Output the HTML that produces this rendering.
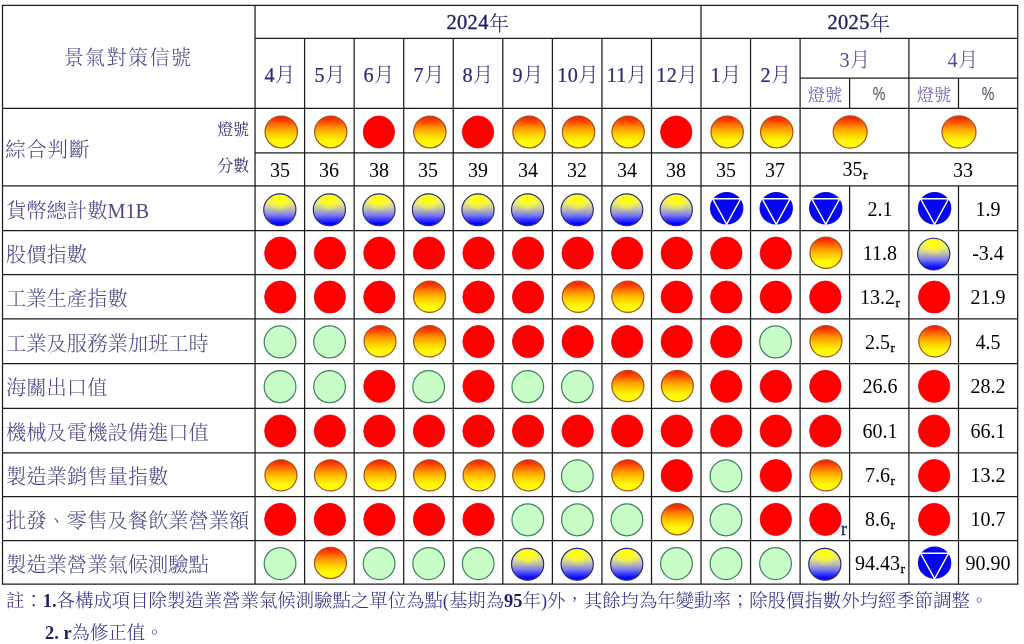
<!DOCTYPE html>
<html lang="zh-Hant">
<head>
<meta charset="utf-8">
<title>景氣對策信號</title>
<style>
html,body{margin:0;padding:0;background:#fff;}
body{width:1024px;height:644px;overflow:hidden;position:relative;font-family:"Liberation Serif","Noto Serif CJK TC","Noto Serif CJK SC",serif;}
#g{position:absolute;left:0;top:0;width:1024px;height:644px;}
.t{will-change:transform;position:absolute;white-space:nowrap;overflow:visible;margin:0;padding:0;}
.cj{font-family:"Liberation Serif","Noto Serif CJK TC","Noto Serif CJK SC",serif;font-weight:300;}
.n{font-family:"Liberation Serif",serif;font-weight:400;}
.sans{font-family:"Liberation Sans",sans-serif;}
.d{font-weight:400;-webkit-text-stroke:0.35px #1d1d66;}
.yr{position:relative;top:1.6px;}
.dm{-webkit-text-stroke:0.22px #2a2a78;}
.sub{font-size:13.5px;font-weight:400;-webkit-text-stroke:0.3px #000;position:relative;top:2.6px;margin-left:0.3px;}
.note{font-weight:300;}
.d2{font-weight:700;color:#1d1d66;font-family:"Liberation Serif",serif;}
</style>
</head>
<body>
<svg id="g" width="1024" height="644" viewBox="0 0 1024 644">
<defs>
<linearGradient id="gO" x1="0" y1="0" x2="0" y2="1">
<stop offset="0" stop-color="#ff1408"/>
<stop offset="0.10" stop-color="#ff3005"/>
<stop offset="0.38" stop-color="#ff9800"/>
<stop offset="0.58" stop-color="#ffcf00"/>
<stop offset="0.78" stop-color="#fff608"/>
<stop offset="1" stop-color="#ffff10"/>
</linearGradient>
<linearGradient id="gY" x1="0" y1="0" x2="0" y2="1">
<stop offset="0" stop-color="#f4f458"/>
<stop offset="0.18" stop-color="#f2f25c"/>
<stop offset="0.3" stop-color="#e8e870"/>
<stop offset="0.42" stop-color="#cecea0"/>
<stop offset="0.53" stop-color="#adadbe"/>
<stop offset="0.66" stop-color="#8080e8"/>
<stop offset="0.8" stop-color="#3c3cff"/>
<stop offset="0.93" stop-color="#0606ff"/>
<stop offset="1" stop-color="#0000f2"/>
</linearGradient>
<radialGradient id="gYr" cx="0.5" cy="0.16" r="0.4" fx="0.5" fy="0.12">
<stop offset="0" stop-color="#ffff0c" stop-opacity="1"/>
<stop offset="0.3" stop-color="#ffff10" stop-opacity="0.95"/>
<stop offset="0.65" stop-color="#ffff20" stop-opacity="0.5"/>
<stop offset="1" stop-color="#ffff30" stop-opacity="0"/>
</radialGradient>
</defs>
<g stroke="#1c1c1c" stroke-width="1.25" fill="none">
<line x1="1.9" y1="5.35" x2="1018.3000000000001" y2="5.35"/>
<line x1="255.05" y1="38.4" x2="1017.7" y2="38.4"/>
<line x1="800.1" y1="78.05" x2="1017.7" y2="78.05"/>
<line x1="2.5" y1="108.3" x2="1017.7" y2="108.3"/>
<line x1="255.05" y1="152.8" x2="1017.7" y2="152.8"/>
<line x1="2.5" y1="185.9" x2="1017.7" y2="185.9"/>
<line x1="2.5" y1="230.5" x2="1017.7" y2="230.5"/>
<line x1="2.5" y1="274.5" x2="1017.7" y2="274.5"/>
<line x1="2.5" y1="318.9" x2="1017.7" y2="318.9"/>
<line x1="2.5" y1="363.5" x2="1017.7" y2="363.5"/>
<line x1="2.5" y1="408.4" x2="1017.7" y2="408.4"/>
<line x1="2.5" y1="452.9" x2="1017.7" y2="452.9"/>
<line x1="2.5" y1="496.6" x2="1017.7" y2="496.6"/>
<line x1="2.5" y1="540.5" x2="1017.7" y2="540.5"/>
<line x1="1.9" y1="584.2" x2="1018.3000000000001" y2="584.2"/>
<line x1="2.5" y1="5.35" x2="2.5" y2="584.2"/>
<line x1="255.05" y1="5.35" x2="255.05" y2="584.2"/>
<line x1="304.6" y1="38.4" x2="304.6" y2="584.2"/>
<line x1="354.15" y1="38.4" x2="354.15" y2="584.2"/>
<line x1="403.7" y1="38.4" x2="403.7" y2="584.2"/>
<line x1="453.25" y1="38.4" x2="453.25" y2="584.2"/>
<line x1="502.8" y1="38.4" x2="502.8" y2="584.2"/>
<line x1="552.4" y1="38.4" x2="552.4" y2="584.2"/>
<line x1="601.95" y1="38.4" x2="601.95" y2="584.2"/>
<line x1="651.5" y1="38.4" x2="651.5" y2="584.2"/>
<line x1="701.0" y1="5.35" x2="701.0" y2="584.2"/>
<line x1="750.55" y1="38.4" x2="750.55" y2="584.2"/>
<line x1="800.1" y1="38.4" x2="800.1" y2="584.2"/>
<line x1="849.6" y1="78.05" x2="849.6" y2="108.3"/>
<line x1="849.6" y1="185.9" x2="849.6" y2="584.2"/>
<line x1="908.9" y1="38.4" x2="908.9" y2="584.2"/>
<line x1="958.5" y1="78.05" x2="958.5" y2="108.3"/>
<line x1="958.5" y1="185.9" x2="958.5" y2="584.2"/>
<line x1="1017.7" y1="5.35" x2="1017.7" y2="584.2"/>
</g>
<g>
<ellipse cx="281.23" cy="132.0" rx="16.15" ry="15.9" fill="url(#gO)" stroke="#a9561c" stroke-width="1.25"/>
<ellipse cx="330.77" cy="132.0" rx="16.15" ry="15.9" fill="url(#gO)" stroke="#a9561c" stroke-width="1.25"/>
<ellipse cx="378.92" cy="132.0" rx="15.7" ry="16.05" fill="#ff0000" stroke="#ea0410" stroke-width="0.8"/>
<ellipse cx="429.88" cy="132.0" rx="16.15" ry="15.9" fill="url(#gO)" stroke="#a9561c" stroke-width="1.25"/>
<ellipse cx="478.02" cy="132.0" rx="15.7" ry="16.05" fill="#ff0000" stroke="#ea0410" stroke-width="0.8"/>
<ellipse cx="529.0" cy="132.0" rx="16.15" ry="15.9" fill="url(#gO)" stroke="#a9561c" stroke-width="1.25"/>
<ellipse cx="578.57" cy="132.0" rx="16.15" ry="15.9" fill="url(#gO)" stroke="#a9561c" stroke-width="1.25"/>
<ellipse cx="628.12" cy="132.0" rx="16.15" ry="15.9" fill="url(#gO)" stroke="#a9561c" stroke-width="1.25"/>
<ellipse cx="676.25" cy="132.0" rx="15.7" ry="16.05" fill="#ff0000" stroke="#ea0410" stroke-width="0.8"/>
<ellipse cx="727.17" cy="132.0" rx="16.15" ry="15.9" fill="url(#gO)" stroke="#a9561c" stroke-width="1.25"/>
<ellipse cx="776.73" cy="132.0" rx="16.15" ry="15.9" fill="url(#gO)" stroke="#a9561c" stroke-width="1.25"/>
<ellipse cx="850.2" cy="132.0" rx="17.0" ry="16.1" fill="url(#gO)" stroke="#a9561c" stroke-width="1.25"/>
<ellipse cx="959.0" cy="132.0" rx="17.0" ry="16.1" fill="url(#gO)" stroke="#a9561c" stroke-width="1.25"/>
<ellipse cx="279.83" cy="209.8" rx="16.1" ry="15.9" fill="url(#gY)"/><ellipse cx="279.83" cy="209.8" rx="16.1" ry="15.9" fill="url(#gYr)" stroke="#26267e" stroke-width="1.15"/>
<ellipse cx="329.38" cy="209.8" rx="16.1" ry="15.9" fill="url(#gY)"/><ellipse cx="329.38" cy="209.8" rx="16.1" ry="15.9" fill="url(#gYr)" stroke="#26267e" stroke-width="1.15"/>
<ellipse cx="378.92" cy="209.8" rx="16.1" ry="15.9" fill="url(#gY)"/><ellipse cx="378.92" cy="209.8" rx="16.1" ry="15.9" fill="url(#gYr)" stroke="#26267e" stroke-width="1.15"/>
<ellipse cx="428.48" cy="209.8" rx="16.1" ry="15.9" fill="url(#gY)"/><ellipse cx="428.48" cy="209.8" rx="16.1" ry="15.9" fill="url(#gYr)" stroke="#26267e" stroke-width="1.15"/>
<ellipse cx="478.02" cy="209.8" rx="16.1" ry="15.9" fill="url(#gY)"/><ellipse cx="478.02" cy="209.8" rx="16.1" ry="15.9" fill="url(#gYr)" stroke="#26267e" stroke-width="1.15"/>
<ellipse cx="527.6" cy="209.8" rx="16.1" ry="15.9" fill="url(#gY)"/><ellipse cx="527.6" cy="209.8" rx="16.1" ry="15.9" fill="url(#gYr)" stroke="#26267e" stroke-width="1.15"/>
<ellipse cx="577.17" cy="209.8" rx="16.1" ry="15.9" fill="url(#gY)"/><ellipse cx="577.17" cy="209.8" rx="16.1" ry="15.9" fill="url(#gYr)" stroke="#26267e" stroke-width="1.15"/>
<ellipse cx="626.73" cy="209.8" rx="16.1" ry="15.9" fill="url(#gY)"/><ellipse cx="626.73" cy="209.8" rx="16.1" ry="15.9" fill="url(#gYr)" stroke="#26267e" stroke-width="1.15"/>
<ellipse cx="676.25" cy="209.8" rx="16.1" ry="15.9" fill="url(#gY)"/><ellipse cx="676.25" cy="209.8" rx="16.1" ry="15.9" fill="url(#gYr)" stroke="#26267e" stroke-width="1.15"/>
<g><ellipse cx="726.67" cy="208.2" rx="16.7" ry="16.2" fill="#0505ee"/><path d="M712.67 198.80 L740.67 198.80 L726.67 224.30 Z" fill="none" stroke="#fff" stroke-width="1.45" stroke-linejoin="miter"/></g>
<g><ellipse cx="776.23" cy="208.2" rx="16.7" ry="16.2" fill="#0505ee"/><path d="M762.23 198.80 L790.23 198.80 L776.23 224.30 Z" fill="none" stroke="#fff" stroke-width="1.45" stroke-linejoin="miter"/></g>
<g><ellipse cx="825.75" cy="208.2" rx="16.7" ry="16.2" fill="#0505ee"/><path d="M811.75 198.80 L839.75 198.80 L825.75 224.30 Z" fill="none" stroke="#fff" stroke-width="1.45" stroke-linejoin="miter"/></g>
<g><ellipse cx="934.6" cy="208.2" rx="16.7" ry="16.2" fill="#0505ee"/><path d="M920.60 198.80 L948.60 198.80 L934.60 224.30 Z" fill="none" stroke="#fff" stroke-width="1.45" stroke-linejoin="miter"/></g>
<ellipse cx="280.33" cy="253.05" rx="15.7" ry="16.05" fill="#ff0000" stroke="#ea0410" stroke-width="0.8"/>
<ellipse cx="329.88" cy="253.05" rx="15.7" ry="16.05" fill="#ff0000" stroke="#ea0410" stroke-width="0.8"/>
<ellipse cx="379.42" cy="253.05" rx="15.7" ry="16.05" fill="#ff0000" stroke="#ea0410" stroke-width="0.8"/>
<ellipse cx="428.98" cy="253.05" rx="15.7" ry="16.05" fill="#ff0000" stroke="#ea0410" stroke-width="0.8"/>
<ellipse cx="478.52" cy="253.05" rx="15.7" ry="16.05" fill="#ff0000" stroke="#ea0410" stroke-width="0.8"/>
<ellipse cx="528.1" cy="253.05" rx="15.7" ry="16.05" fill="#ff0000" stroke="#ea0410" stroke-width="0.8"/>
<ellipse cx="577.67" cy="253.05" rx="15.7" ry="16.05" fill="#ff0000" stroke="#ea0410" stroke-width="0.8"/>
<ellipse cx="627.23" cy="253.05" rx="15.7" ry="16.05" fill="#ff0000" stroke="#ea0410" stroke-width="0.8"/>
<ellipse cx="676.75" cy="253.05" rx="15.7" ry="16.05" fill="#ff0000" stroke="#ea0410" stroke-width="0.8"/>
<ellipse cx="726.27" cy="253.05" rx="15.7" ry="16.05" fill="#ff0000" stroke="#ea0410" stroke-width="0.8"/>
<ellipse cx="775.83" cy="253.05" rx="15.7" ry="16.05" fill="#ff0000" stroke="#ea0410" stroke-width="0.8"/>
<ellipse cx="825.95" cy="252.8" rx="16.0" ry="15.6" fill="url(#gO)" stroke="#a9561c" stroke-width="1.25"/>
<ellipse cx="933.7" cy="254.1" rx="16.1" ry="15.9" fill="url(#gY)"/><ellipse cx="933.7" cy="254.1" rx="16.1" ry="15.9" fill="url(#gYr)" stroke="#26267e" stroke-width="1.15"/>
<ellipse cx="280.33" cy="297.05" rx="15.7" ry="16.05" fill="#ff0000" stroke="#ea0410" stroke-width="0.8"/>
<ellipse cx="329.88" cy="297.05" rx="15.7" ry="16.05" fill="#ff0000" stroke="#ea0410" stroke-width="0.8"/>
<ellipse cx="379.42" cy="297.05" rx="15.7" ry="16.05" fill="#ff0000" stroke="#ea0410" stroke-width="0.8"/>
<ellipse cx="429.58" cy="296.8" rx="16.0" ry="15.6" fill="url(#gO)" stroke="#a9561c" stroke-width="1.25"/>
<ellipse cx="478.52" cy="297.05" rx="15.7" ry="16.05" fill="#ff0000" stroke="#ea0410" stroke-width="0.8"/>
<ellipse cx="528.1" cy="297.05" rx="15.7" ry="16.05" fill="#ff0000" stroke="#ea0410" stroke-width="0.8"/>
<ellipse cx="578.27" cy="296.8" rx="16.0" ry="15.6" fill="url(#gO)" stroke="#a9561c" stroke-width="1.25"/>
<ellipse cx="627.83" cy="296.8" rx="16.0" ry="15.6" fill="url(#gO)" stroke="#a9561c" stroke-width="1.25"/>
<ellipse cx="676.75" cy="297.05" rx="15.7" ry="16.05" fill="#ff0000" stroke="#ea0410" stroke-width="0.8"/>
<ellipse cx="726.27" cy="297.05" rx="15.7" ry="16.05" fill="#ff0000" stroke="#ea0410" stroke-width="0.8"/>
<ellipse cx="775.83" cy="297.05" rx="15.7" ry="16.05" fill="#ff0000" stroke="#ea0410" stroke-width="0.8"/>
<ellipse cx="825.35" cy="297.05" rx="15.7" ry="16.05" fill="#ff0000" stroke="#ea0410" stroke-width="0.8"/>
<ellipse cx="934.2" cy="297.05" rx="15.7" ry="16.05" fill="#ff0000" stroke="#ea0410" stroke-width="0.8"/>
<ellipse cx="280.03" cy="341.9" rx="15.85" ry="16.0" fill="#c8fdc8" stroke="#3f855a" stroke-width="1.25"/>
<ellipse cx="329.57" cy="341.9" rx="15.85" ry="16.0" fill="#c8fdc8" stroke="#3f855a" stroke-width="1.25"/>
<ellipse cx="380.02" cy="341.3" rx="16.0" ry="15.6" fill="url(#gO)" stroke="#a9561c" stroke-width="1.25"/>
<ellipse cx="429.58" cy="341.3" rx="16.0" ry="15.6" fill="url(#gO)" stroke="#a9561c" stroke-width="1.25"/>
<ellipse cx="478.52" cy="341.55" rx="15.7" ry="16.05" fill="#ff0000" stroke="#ea0410" stroke-width="0.8"/>
<ellipse cx="528.1" cy="341.55" rx="15.7" ry="16.05" fill="#ff0000" stroke="#ea0410" stroke-width="0.8"/>
<ellipse cx="577.67" cy="341.55" rx="15.7" ry="16.05" fill="#ff0000" stroke="#ea0410" stroke-width="0.8"/>
<ellipse cx="627.23" cy="341.55" rx="15.7" ry="16.05" fill="#ff0000" stroke="#ea0410" stroke-width="0.8"/>
<ellipse cx="676.75" cy="341.55" rx="15.7" ry="16.05" fill="#ff0000" stroke="#ea0410" stroke-width="0.8"/>
<ellipse cx="726.27" cy="341.55" rx="15.7" ry="16.05" fill="#ff0000" stroke="#ea0410" stroke-width="0.8"/>
<ellipse cx="775.53" cy="341.9" rx="15.85" ry="16.0" fill="#c8fdc8" stroke="#3f855a" stroke-width="1.25"/>
<ellipse cx="825.95" cy="341.3" rx="16.0" ry="15.6" fill="url(#gO)" stroke="#a9561c" stroke-width="1.25"/>
<ellipse cx="934.8" cy="341.3" rx="16.0" ry="15.6" fill="url(#gO)" stroke="#a9561c" stroke-width="1.25"/>
<ellipse cx="280.03" cy="386.65" rx="15.85" ry="16.0" fill="#c8fdc8" stroke="#3f855a" stroke-width="1.25"/>
<ellipse cx="329.57" cy="386.65" rx="15.85" ry="16.0" fill="#c8fdc8" stroke="#3f855a" stroke-width="1.25"/>
<ellipse cx="379.42" cy="386.3" rx="15.7" ry="16.05" fill="#ff0000" stroke="#ea0410" stroke-width="0.8"/>
<ellipse cx="428.68" cy="386.65" rx="15.85" ry="16.0" fill="#c8fdc8" stroke="#3f855a" stroke-width="1.25"/>
<ellipse cx="478.52" cy="386.3" rx="15.7" ry="16.05" fill="#ff0000" stroke="#ea0410" stroke-width="0.8"/>
<ellipse cx="527.8" cy="386.65" rx="15.85" ry="16.0" fill="#c8fdc8" stroke="#3f855a" stroke-width="1.25"/>
<ellipse cx="577.38" cy="386.65" rx="15.85" ry="16.0" fill="#c8fdc8" stroke="#3f855a" stroke-width="1.25"/>
<ellipse cx="627.83" cy="386.05" rx="16.0" ry="15.6" fill="url(#gO)" stroke="#a9561c" stroke-width="1.25"/>
<ellipse cx="677.35" cy="386.05" rx="16.0" ry="15.6" fill="url(#gO)" stroke="#a9561c" stroke-width="1.25"/>
<ellipse cx="726.27" cy="386.3" rx="15.7" ry="16.05" fill="#ff0000" stroke="#ea0410" stroke-width="0.8"/>
<ellipse cx="775.83" cy="386.3" rx="15.7" ry="16.05" fill="#ff0000" stroke="#ea0410" stroke-width="0.8"/>
<ellipse cx="825.35" cy="386.3" rx="15.7" ry="16.05" fill="#ff0000" stroke="#ea0410" stroke-width="0.8"/>
<ellipse cx="934.2" cy="386.3" rx="15.7" ry="16.05" fill="#ff0000" stroke="#ea0410" stroke-width="0.8"/>
<ellipse cx="280.33" cy="431.0" rx="15.7" ry="16.05" fill="#ff0000" stroke="#ea0410" stroke-width="0.8"/>
<ellipse cx="329.88" cy="431.0" rx="15.7" ry="16.05" fill="#ff0000" stroke="#ea0410" stroke-width="0.8"/>
<ellipse cx="379.42" cy="431.0" rx="15.7" ry="16.05" fill="#ff0000" stroke="#ea0410" stroke-width="0.8"/>
<ellipse cx="428.98" cy="431.0" rx="15.7" ry="16.05" fill="#ff0000" stroke="#ea0410" stroke-width="0.8"/>
<ellipse cx="478.52" cy="431.0" rx="15.7" ry="16.05" fill="#ff0000" stroke="#ea0410" stroke-width="0.8"/>
<ellipse cx="528.1" cy="431.0" rx="15.7" ry="16.05" fill="#ff0000" stroke="#ea0410" stroke-width="0.8"/>
<ellipse cx="577.67" cy="431.0" rx="15.7" ry="16.05" fill="#ff0000" stroke="#ea0410" stroke-width="0.8"/>
<ellipse cx="627.23" cy="431.0" rx="15.7" ry="16.05" fill="#ff0000" stroke="#ea0410" stroke-width="0.8"/>
<ellipse cx="676.75" cy="431.0" rx="15.7" ry="16.05" fill="#ff0000" stroke="#ea0410" stroke-width="0.8"/>
<ellipse cx="726.27" cy="431.0" rx="15.7" ry="16.05" fill="#ff0000" stroke="#ea0410" stroke-width="0.8"/>
<ellipse cx="775.83" cy="431.0" rx="15.7" ry="16.05" fill="#ff0000" stroke="#ea0410" stroke-width="0.8"/>
<ellipse cx="825.35" cy="431.0" rx="15.7" ry="16.05" fill="#ff0000" stroke="#ea0410" stroke-width="0.8"/>
<ellipse cx="934.2" cy="431.0" rx="15.7" ry="16.05" fill="#ff0000" stroke="#ea0410" stroke-width="0.8"/>
<ellipse cx="280.93" cy="475.35" rx="16.0" ry="15.6" fill="url(#gO)" stroke="#a9561c" stroke-width="1.25"/>
<ellipse cx="330.48" cy="475.35" rx="16.0" ry="15.6" fill="url(#gO)" stroke="#a9561c" stroke-width="1.25"/>
<ellipse cx="380.02" cy="475.35" rx="16.0" ry="15.6" fill="url(#gO)" stroke="#a9561c" stroke-width="1.25"/>
<ellipse cx="429.58" cy="475.35" rx="16.0" ry="15.6" fill="url(#gO)" stroke="#a9561c" stroke-width="1.25"/>
<ellipse cx="479.12" cy="475.35" rx="16.0" ry="15.6" fill="url(#gO)" stroke="#a9561c" stroke-width="1.25"/>
<ellipse cx="528.7" cy="475.35" rx="16.0" ry="15.6" fill="url(#gO)" stroke="#a9561c" stroke-width="1.25"/>
<ellipse cx="577.38" cy="475.95" rx="15.85" ry="16.0" fill="#c8fdc8" stroke="#3f855a" stroke-width="1.25"/>
<ellipse cx="627.83" cy="475.35" rx="16.0" ry="15.6" fill="url(#gO)" stroke="#a9561c" stroke-width="1.25"/>
<ellipse cx="676.75" cy="475.6" rx="15.7" ry="16.05" fill="#ff0000" stroke="#ea0410" stroke-width="0.8"/>
<ellipse cx="725.98" cy="475.95" rx="15.85" ry="16.0" fill="#c8fdc8" stroke="#3f855a" stroke-width="1.25"/>
<ellipse cx="775.83" cy="475.6" rx="15.7" ry="16.05" fill="#ff0000" stroke="#ea0410" stroke-width="0.8"/>
<ellipse cx="825.95" cy="475.35" rx="16.0" ry="15.6" fill="url(#gO)" stroke="#a9561c" stroke-width="1.25"/>
<ellipse cx="934.2" cy="475.6" rx="15.7" ry="16.05" fill="#ff0000" stroke="#ea0410" stroke-width="0.8"/>
<ellipse cx="280.33" cy="519.4" rx="15.7" ry="16.05" fill="#ff0000" stroke="#ea0410" stroke-width="0.8"/>
<ellipse cx="329.88" cy="519.4" rx="15.7" ry="16.05" fill="#ff0000" stroke="#ea0410" stroke-width="0.8"/>
<ellipse cx="379.42" cy="519.4" rx="15.7" ry="16.05" fill="#ff0000" stroke="#ea0410" stroke-width="0.8"/>
<ellipse cx="428.98" cy="519.4" rx="15.7" ry="16.05" fill="#ff0000" stroke="#ea0410" stroke-width="0.8"/>
<ellipse cx="478.52" cy="519.4" rx="15.7" ry="16.05" fill="#ff0000" stroke="#ea0410" stroke-width="0.8"/>
<ellipse cx="527.8" cy="519.75" rx="15.85" ry="16.0" fill="#c8fdc8" stroke="#3f855a" stroke-width="1.25"/>
<ellipse cx="577.38" cy="519.75" rx="15.85" ry="16.0" fill="#c8fdc8" stroke="#3f855a" stroke-width="1.25"/>
<ellipse cx="626.93" cy="519.75" rx="15.85" ry="16.0" fill="#c8fdc8" stroke="#3f855a" stroke-width="1.25"/>
<ellipse cx="677.35" cy="519.15" rx="16.0" ry="15.6" fill="url(#gO)" stroke="#a9561c" stroke-width="1.25"/>
<ellipse cx="725.98" cy="519.75" rx="15.85" ry="16.0" fill="#c8fdc8" stroke="#3f855a" stroke-width="1.25"/>
<ellipse cx="775.83" cy="519.4" rx="15.7" ry="16.05" fill="#ff0000" stroke="#ea0410" stroke-width="0.8"/>
<ellipse cx="825.35" cy="519.4" rx="15.7" ry="16.05" fill="#ff0000" stroke="#ea0410" stroke-width="0.8"/>
<ellipse cx="934.2" cy="519.4" rx="15.7" ry="16.05" fill="#ff0000" stroke="#ea0410" stroke-width="0.8"/>
<ellipse cx="280.03" cy="563.55" rx="15.85" ry="16.0" fill="#c8fdc8" stroke="#3f855a" stroke-width="1.25"/>
<ellipse cx="330.48" cy="562.95" rx="16.0" ry="15.6" fill="url(#gO)" stroke="#a9561c" stroke-width="1.25"/>
<ellipse cx="379.12" cy="563.55" rx="15.85" ry="16.0" fill="#c8fdc8" stroke="#3f855a" stroke-width="1.25"/>
<ellipse cx="428.68" cy="563.55" rx="15.85" ry="16.0" fill="#c8fdc8" stroke="#3f855a" stroke-width="1.25"/>
<ellipse cx="478.22" cy="563.55" rx="15.85" ry="16.0" fill="#c8fdc8" stroke="#3f855a" stroke-width="1.25"/>
<ellipse cx="527.6" cy="564.25" rx="16.1" ry="15.9" fill="url(#gY)"/><ellipse cx="527.6" cy="564.25" rx="16.1" ry="15.9" fill="url(#gYr)" stroke="#26267e" stroke-width="1.15"/>
<ellipse cx="577.17" cy="564.25" rx="16.1" ry="15.9" fill="url(#gY)"/><ellipse cx="577.17" cy="564.25" rx="16.1" ry="15.9" fill="url(#gYr)" stroke="#26267e" stroke-width="1.15"/>
<ellipse cx="626.73" cy="564.25" rx="16.1" ry="15.9" fill="url(#gY)"/><ellipse cx="626.73" cy="564.25" rx="16.1" ry="15.9" fill="url(#gYr)" stroke="#26267e" stroke-width="1.15"/>
<ellipse cx="676.45" cy="563.55" rx="15.85" ry="16.0" fill="#c8fdc8" stroke="#3f855a" stroke-width="1.25"/>
<ellipse cx="725.98" cy="563.55" rx="15.85" ry="16.0" fill="#c8fdc8" stroke="#3f855a" stroke-width="1.25"/>
<ellipse cx="775.53" cy="563.55" rx="15.85" ry="16.0" fill="#c8fdc8" stroke="#3f855a" stroke-width="1.25"/>
<ellipse cx="824.85" cy="564.25" rx="16.1" ry="15.9" fill="url(#gY)"/><ellipse cx="824.85" cy="564.25" rx="16.1" ry="15.9" fill="url(#gYr)" stroke="#26267e" stroke-width="1.15"/>
<g><ellipse cx="934.6" cy="562.65" rx="16.7" ry="16.2" fill="#0505ee"/><path d="M920.60 553.25 L948.60 553.25 L934.60 578.75 Z" fill="none" stroke="#fff" stroke-width="1.45" stroke-linejoin="miter"/></g>
</g>
</svg>
<div class="t cj" style="left:-71.60px;top:37.90px;width:400px;height:40px;line-height:40px;font-size:20px;color:#4a4a8a;text-align:center;letter-spacing:1.45px;">景氣對策信號</div>
<div class="t cj" style="left:277.60px;top:1.90px;width:400px;height:40px;line-height:40px;font-size:20.4px;color:#1d1d66;text-align:center;letter-spacing:0.35px;"><span class="d">2024</span><span class="yr">年</span></div>
<div class="t cj" style="left:659.40px;top:1.90px;width:400px;height:40px;line-height:40px;font-size:20.4px;color:#1d1d66;text-align:center;letter-spacing:0.35px;"><span class="d">2025</span><span class="yr">年</span></div>
<div class="t cj" style="left:80.23px;top:55.10px;width:400px;height:40px;line-height:40px;font-size:20.2px;color:#2a2a78;text-align:center;letter-spacing:0.3px;"><span class="dm">4</span>月</div>
<div class="t cj" style="left:129.77px;top:55.10px;width:400px;height:40px;line-height:40px;font-size:20.2px;color:#2a2a78;text-align:center;letter-spacing:0.3px;"><span class="dm">5</span>月</div>
<div class="t cj" style="left:179.32px;top:55.10px;width:400px;height:40px;line-height:40px;font-size:20.2px;color:#2a2a78;text-align:center;letter-spacing:0.3px;"><span class="dm">6</span>月</div>
<div class="t cj" style="left:228.88px;top:55.10px;width:400px;height:40px;line-height:40px;font-size:20.2px;color:#2a2a78;text-align:center;letter-spacing:0.3px;"><span class="dm">7</span>月</div>
<div class="t cj" style="left:278.42px;top:55.10px;width:400px;height:40px;line-height:40px;font-size:20.2px;color:#2a2a78;text-align:center;letter-spacing:0.3px;"><span class="dm">8</span>月</div>
<div class="t cj" style="left:328.00px;top:55.10px;width:400px;height:40px;line-height:40px;font-size:20.2px;color:#2a2a78;text-align:center;letter-spacing:0.3px;"><span class="dm">9</span>月</div>
<div class="t cj" style="left:377.57px;top:55.10px;width:400px;height:40px;line-height:40px;font-size:20.2px;color:#2a2a78;text-align:center;letter-spacing:0.3px;"><span class="dm">10</span>月</div>
<div class="t cj" style="left:427.12px;top:55.10px;width:400px;height:40px;line-height:40px;font-size:20.2px;color:#2a2a78;text-align:center;letter-spacing:0.3px;"><span class="dm">11</span>月</div>
<div class="t cj" style="left:476.65px;top:55.10px;width:400px;height:40px;line-height:40px;font-size:20.2px;color:#2a2a78;text-align:center;letter-spacing:0.3px;"><span class="dm">12</span>月</div>
<div class="t cj" style="left:526.17px;top:55.10px;width:400px;height:40px;line-height:40px;font-size:20.2px;color:#2a2a78;text-align:center;letter-spacing:0.3px;"><span class="dm">1</span>月</div>
<div class="t cj" style="left:575.73px;top:55.10px;width:400px;height:40px;line-height:40px;font-size:20.2px;color:#2a2a78;text-align:center;letter-spacing:0.3px;"><span class="dm">2</span>月</div>
<div class="t cj" style="left:654.60px;top:40.30px;width:400px;height:40px;line-height:40px;font-size:20.2px;color:#4e4e98;text-align:center;letter-spacing:0.3px;"><span class="dm3">3</span>月</div>
<div class="t cj" style="left:763.40px;top:40.30px;width:400px;height:40px;line-height:40px;font-size:20.2px;color:#4e4e98;text-align:center;letter-spacing:0.3px;"><span class="dm3">4</span>月</div>
<div class="t cj" style="left:624.95px;top:76.00px;width:400px;height:40px;line-height:40px;font-size:17.2px;color:#5a5aa8;text-align:center;">燈號</div>
<div class="t cj" style="left:733.80px;top:76.00px;width:400px;height:40px;line-height:40px;font-size:17.2px;color:#5a5aa8;text-align:center;">燈號</div>
<div class="t sans" style="left:679.35px;top:74.10px;width:400px;height:40px;line-height:40px;font-size:17.6px;color:#3c3c52;text-align:center;transform:scaleX(0.8);">%</div>
<div class="t sans" style="left:787.70px;top:74.10px;width:400px;height:40px;line-height:40px;font-size:17.6px;color:#3c3c52;text-align:center;transform:scaleX(0.8);">%</div>
<div class="t cj" style="left:5.40px;top:130.00px;width:400px;height:40px;line-height:40px;font-size:20.5px;color:#4a4a8a;text-align:left;letter-spacing:0.8px;">綜合判斷</div>
<div class="t cj" style="left:-151.10px;top:109.60px;width:400px;height:40px;line-height:40px;font-size:15.8px;color:#34346e;text-align:right;font-weight:400;">燈號</div>
<div class="t cj" style="left:-151.10px;top:146.40px;width:400px;height:40px;line-height:40px;font-size:15.8px;color:#34346e;text-align:right;font-weight:400;">分數</div>
<div class="t n" style="left:79.83px;top:149.95px;width:400px;height:40px;line-height:40px;font-size:20px;color:#000;text-align:center;">35</div>
<div class="t n" style="left:129.38px;top:149.95px;width:400px;height:40px;line-height:40px;font-size:20px;color:#000;text-align:center;">36</div>
<div class="t n" style="left:178.92px;top:149.95px;width:400px;height:40px;line-height:40px;font-size:20px;color:#000;text-align:center;">38</div>
<div class="t n" style="left:228.48px;top:149.95px;width:400px;height:40px;line-height:40px;font-size:20px;color:#000;text-align:center;">35</div>
<div class="t n" style="left:278.02px;top:149.95px;width:400px;height:40px;line-height:40px;font-size:20px;color:#000;text-align:center;">39</div>
<div class="t n" style="left:327.60px;top:149.95px;width:400px;height:40px;line-height:40px;font-size:20px;color:#000;text-align:center;">34</div>
<div class="t n" style="left:377.17px;top:149.95px;width:400px;height:40px;line-height:40px;font-size:20px;color:#000;text-align:center;">32</div>
<div class="t n" style="left:426.73px;top:149.95px;width:400px;height:40px;line-height:40px;font-size:20px;color:#000;text-align:center;">34</div>
<div class="t n" style="left:476.25px;top:149.95px;width:400px;height:40px;line-height:40px;font-size:20px;color:#000;text-align:center;">38</div>
<div class="t n" style="left:525.77px;top:149.95px;width:400px;height:40px;line-height:40px;font-size:20px;color:#000;text-align:center;">35</div>
<div class="t n" style="left:575.33px;top:149.95px;width:400px;height:40px;line-height:40px;font-size:20px;color:#000;text-align:center;">37</div>
<div class="t n" style="left:654.50px;top:149.15px;width:400px;height:40px;line-height:40px;font-size:20px;color:#000;text-align:center;">35<span class="sub">r</span></div>
<div class="t n" style="left:763.30px;top:149.95px;width:400px;height:40px;line-height:40px;font-size:20px;color:#000;text-align:center;">33</div>
<div class="t cj" style="left:5.80px;top:190.60px;width:400px;height:40px;line-height:40px;font-size:20.3px;color:#4a4a8a;text-align:left;">貨幣總計數M1B</div>
<div class="t n" style="left:679.55px;top:188.50px;width:400px;height:40px;line-height:40px;font-size:20px;color:#000;text-align:center;">2.1</div>
<div class="t n" style="left:788.40px;top:188.50px;width:400px;height:40px;line-height:40px;font-size:20px;color:#000;text-align:center;">1.9</div>
<div class="t cj" style="left:5.80px;top:234.90px;width:400px;height:40px;line-height:40px;font-size:20.3px;color:#4a4a8a;text-align:left;">股價指數</div>
<div class="t n" style="left:679.55px;top:232.80px;width:400px;height:40px;line-height:40px;font-size:20px;color:#000;text-align:center;">11.8</div>
<div class="t n" style="left:788.40px;top:232.80px;width:400px;height:40px;line-height:40px;font-size:20px;color:#000;text-align:center;">-3.4</div>
<div class="t cj" style="left:5.80px;top:279.10px;width:400px;height:40px;line-height:40px;font-size:20.3px;color:#4a4a8a;text-align:left;">工業生產指數</div>
<div class="t n" style="left:679.55px;top:277.00px;width:400px;height:40px;line-height:40px;font-size:20px;color:#000;text-align:center;">13.2<span class="sub">r</span></div>
<div class="t n" style="left:788.40px;top:277.00px;width:400px;height:40px;line-height:40px;font-size:20px;color:#000;text-align:center;">21.9</div>
<div class="t cj" style="left:5.80px;top:323.60px;width:400px;height:40px;line-height:40px;font-size:20.3px;color:#4a4a8a;text-align:left;">工業及服務業加班工時</div>
<div class="t n" style="left:679.55px;top:321.50px;width:400px;height:40px;line-height:40px;font-size:20px;color:#000;text-align:center;">2.5<span class="sub">r</span></div>
<div class="t n" style="left:788.40px;top:321.50px;width:400px;height:40px;line-height:40px;font-size:20px;color:#000;text-align:center;">4.5</div>
<div class="t cj" style="left:5.80px;top:368.35px;width:400px;height:40px;line-height:40px;font-size:20.3px;color:#4a4a8a;text-align:left;">海關出口值</div>
<div class="t n" style="left:679.55px;top:366.25px;width:400px;height:40px;line-height:40px;font-size:20px;color:#000;text-align:center;">26.6</div>
<div class="t n" style="left:788.40px;top:366.25px;width:400px;height:40px;line-height:40px;font-size:20px;color:#000;text-align:center;">28.2</div>
<div class="t cj" style="left:5.80px;top:413.05px;width:400px;height:40px;line-height:40px;font-size:20.3px;color:#4a4a8a;text-align:left;">機械及電機設備進口值</div>
<div class="t n" style="left:679.55px;top:410.95px;width:400px;height:40px;line-height:40px;font-size:20px;color:#000;text-align:center;">60.1</div>
<div class="t n" style="left:788.40px;top:410.95px;width:400px;height:40px;line-height:40px;font-size:20px;color:#000;text-align:center;">66.1</div>
<div class="t cj" style="left:5.80px;top:457.15px;width:400px;height:40px;line-height:40px;font-size:20.3px;color:#4a4a8a;text-align:left;">製造業銷售量指數</div>
<div class="t n" style="left:679.55px;top:455.05px;width:400px;height:40px;line-height:40px;font-size:20px;color:#000;text-align:center;">7.6<span class="sub">r</span></div>
<div class="t n" style="left:788.40px;top:455.05px;width:400px;height:40px;line-height:40px;font-size:20px;color:#000;text-align:center;">13.2</div>
<div class="t cj" style="left:5.80px;top:500.95px;width:400px;height:40px;line-height:40px;font-size:20.3px;color:#4a4a8a;text-align:left;">批發、零售及餐飲業營業額</div>
<div class="t n" style="left:679.55px;top:498.85px;width:400px;height:40px;line-height:40px;font-size:20px;color:#000;text-align:center;">8.6<span class="sub">r</span></div>
<div class="t n" style="left:788.40px;top:498.85px;width:400px;height:40px;line-height:40px;font-size:20px;color:#000;text-align:center;">10.7</div>
<div class="t cj" style="left:5.80px;top:544.75px;width:400px;height:40px;line-height:40px;font-size:20.3px;color:#4a4a8a;text-align:left;">製造業營業氣候測驗點</div>
<div class="t n" style="left:679.55px;top:542.65px;width:400px;height:40px;line-height:40px;font-size:20px;color:#000;text-align:center;">94.43<span class="sub">r</span></div>
<div class="t n" style="left:788.40px;top:542.65px;width:400px;height:40px;line-height:40px;font-size:20px;color:#000;text-align:center;">90.90</div>
<div class="t n" style="left:643.50px;top:509.15px;width:400px;height:40px;line-height:40px;font-size:18px;color:#26266e;text-align:center;-webkit-text-stroke:0.45px #26266e;">r</div>
<div class="t cj note" style="left:5.60px;top:581.40px;width:400px;height:40px;line-height:40px;font-size:18.4px;color:#33338c;text-align:left;width:1015px;">註：<b class="d2">1.</b>各構成項目除製造業營業氣候測驗點之單位為點(基期為<b class="d2">95</b>年)外，其餘均為年變動率；除股價指數外均經季節調整。</div>
<div class="t cj note" style="left:45.40px;top:612.60px;width:400px;height:40px;line-height:40px;font-size:18.4px;color:#33338c;text-align:left;"><b class="d2">2. r</b>為修正值。</div>
</body>
</html>
